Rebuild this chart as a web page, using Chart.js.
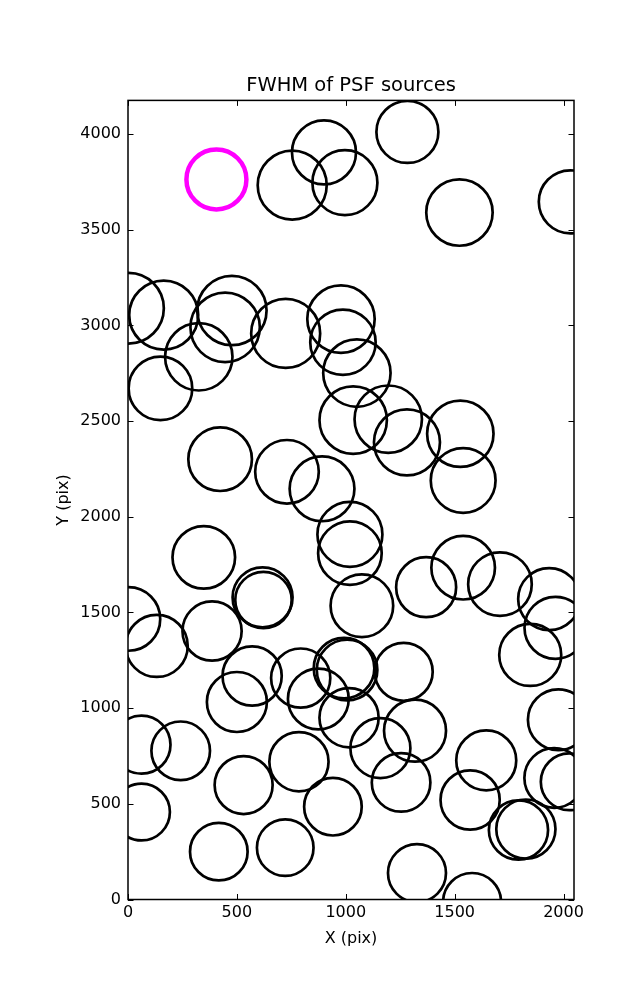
<!DOCTYPE html>
<html>
<head>
<meta charset="utf-8">
<script src="https://cdn.jsdelivr.net/npm/chart.js@4.4.1/dist/chart.umd.min.js"></script>
<style>
  body { margin: 0; background: #fff; }
  #wrap { width: 637px; height: 1000px; }
</style>
</head>
<body>
<div id="wrap"><canvas id="psf-chart" width="637" height="1000"></canvas></div>
<script>
// source positions (pix) and measured FWHM (pix)
const srcX = [754, 900, 996, 1283, 1522, 2031, 2, 164, 477, 446, 325, 724, 978, 987, 1051, 149,
  423, 730, 891, 1019, 1019, 348, 618, 622, 2, 132, 386, 1034, 1195, 1281, 1526, 1539, 1539, 1369,
  1708, 1934, 1963, 1074, 570, 500, 793, 874, 1006, 992, 1015, 1266, 1159, 1318, 1254, 1645, 1571,
  1793, 1827, 1847, 1976, 1957, 2026, 62, 242, 531, 785, 62, 941, 417, 722, 1327, 1580];
const srcY = [3733, 3904, 3746, 4011, 3590, 3646, 3090, 3054, 3078, 2990, 2836, 2958, 3033, 2912, 2751, 2671,
  2301, 2235, 2146, 1908, 1810, 1788, 1579, 1565, 1466, 1325, 1403, 2505, 2510, 2389, 2434, 2190, 1734, 1632,
  1648, 1570, 1420, 1535, 1168, 1032, 1157, 1048, 1199, 1209, 950, 1190, 791, 882, 612, 727, 520,
  363, 368, 1278, 939, 635, 615, 809, 777, 598, 720, 457, 485, 250, 271, 138, -13];
const srcFwhm = [3.45, 3.20, 3.25, 3.10, 3.32, 3.15, 3.54, 3.45, 3.47, 3.47, 3.37, 3.45, 3.37, 3.27, 3.37, 3.18,
  3.18, 3.18, 3.24, 3.25, 3.18, 3.13, 3.00, 2.82, 3.18, 3.10, 2.96, 3.37, 3.37, 3.30, 3.32, 3.24, 3.18, 3.00,
  3.18, 3.10, 3.10, 3.13, 2.96, 3.00, 2.96, 3.04, 3.03, 3.03, 2.96, 2.90, 3.00, 3.10, 2.93, 3.00, 2.96,
  2.96, 2.96, 3.10, 3.04, 2.98, 2.84, 2.90, 2.93, 2.90, 2.96, 2.84, 2.88, 2.88, 2.83, 2.90, 2.90];

// reference source
const refX = [406];
const refY = [3763];
const refFwhm = [3.0];

const xTicks = [0, 500, 1000, 1500, 2000];
const yTicks = [0, 500, 1000, 1500, 2000, 2500, 3000, 3500, 4000];
const xMax = 2048;
const yMax = 4176;

const FONT = "'DejaVu Sans', sans-serif";
const RADIUS_SCALE = 10; // px of marker radius per pix of FWHM

function toBubbles(xs, ys, fw) {
    return xs.map((x, i) => ({ x: x, y: ys[i], r: fw[i] * RADIUS_SCALE }));
}

// frame + inward ticks on all four sides
const framePlugin = {
    id: 'frame',
    afterDatasetsDraw(chart) {
        const { ctx, chartArea: a, scales } = chart;
        const len = 5.5;
        ctx.save();
        ctx.strokeStyle = '#000';
        ctx.lineWidth = 1;
        ctx.beginPath();
        xTicks.forEach(v => {
            const px = Math.round(scales.x.getPixelForValue(v)) + 0.5;
            ctx.moveTo(px, a.bottom); ctx.lineTo(px, a.bottom - len);
            ctx.moveTo(px, a.top); ctx.lineTo(px, a.top + len);
        });
        yTicks.forEach(v => {
            const py = Math.round(scales.y.getPixelForValue(v)) + 0.5;
            ctx.moveTo(a.left, py); ctx.lineTo(a.left + len, py);
            ctx.moveTo(a.right, py); ctx.lineTo(a.right - len, py);
        });
        ctx.stroke();
        ctx.lineWidth = 1.5;
        ctx.strokeRect(a.left, a.top, a.right - a.left, a.bottom - a.top);
        ctx.restore();
    }
};

const ctx = document.getElementById('psf-chart').getContext('2d');
new Chart(ctx, {
    type: 'bubble',
    data: {
        datasets: [{
            label: 'sources',
            data: toBubbles(srcX, srcY, srcFwhm),
            backgroundColor: 'rgba(0,0,0,0)',
            borderColor: '#000',
            borderWidth: 2.7,
            clip: 0
        }, {
            label: 'reference',
            data: toBubbles(refX, refY, refFwhm),
            backgroundColor: 'rgba(0,0,0,0)',
            borderColor: '#ff00ff',
            borderWidth: 4.5,
            clip: 0
        }]
    },
    options: {
        responsive: false,
        animation: false,
        events: [],
        layout: { padding: { left: 0, right: 63, top: 0, bottom: 0 } },
        plugins: {
            legend: { display: false },
            tooltip: { enabled: false },
            title: {
                display: true,
                fullSize: false,
                text: 'FWHM of PSF sources',
                color: '#000',
                font: { family: FONT, size: 19.5, weight: 'normal' },
                padding: { top: 74, bottom: 3 }
            }
        },
        scales: {
            x: {
                type: 'linear',
                min: 0,
                max: xMax,
                grid: { display: false, drawTicks: false },
                border: { display: false },
                afterBuildTicks: s => { s.ticks = xTicks.map(v => ({ value: v })); },
                afterFit: s => { s.height = 100.5; },
                ticks: {
                    color: '#000',
                    padding: 4,
                    maxRotation: 0,
                    font: { family: FONT, size: 16 },
                    callback: v => String(v)
                },
                title: {
                    display: true,
                    text: 'X (pix)',
                    color: '#000',
                    font: { family: FONT, size: 16 },
                    padding: { top: 0, bottom: 52 }
                }
            },
            y: {
                type: 'linear',
                min: 0,
                max: yMax,
                grid: { display: false, drawTicks: false },
                border: { display: false },
                afterBuildTicks: s => { s.ticks = yTicks.map(v => ({ value: v })); },
                afterFit: s => { s.width = 128; },
                ticks: {
                    color: '#000',
                    padding: 7,
                    font: { family: FONT, size: 16 },
                    callback: v => String(v)
                },
                title: {
                    display: true,
                    text: 'Y (pix)',
                    color: '#000',
                    font: { family: FONT, size: 16 },
                    padding: { top: 54, bottom: 0 }
                }
            }
        }
    },
    plugins: [framePlugin]
});
</script>
</body>
</html>
